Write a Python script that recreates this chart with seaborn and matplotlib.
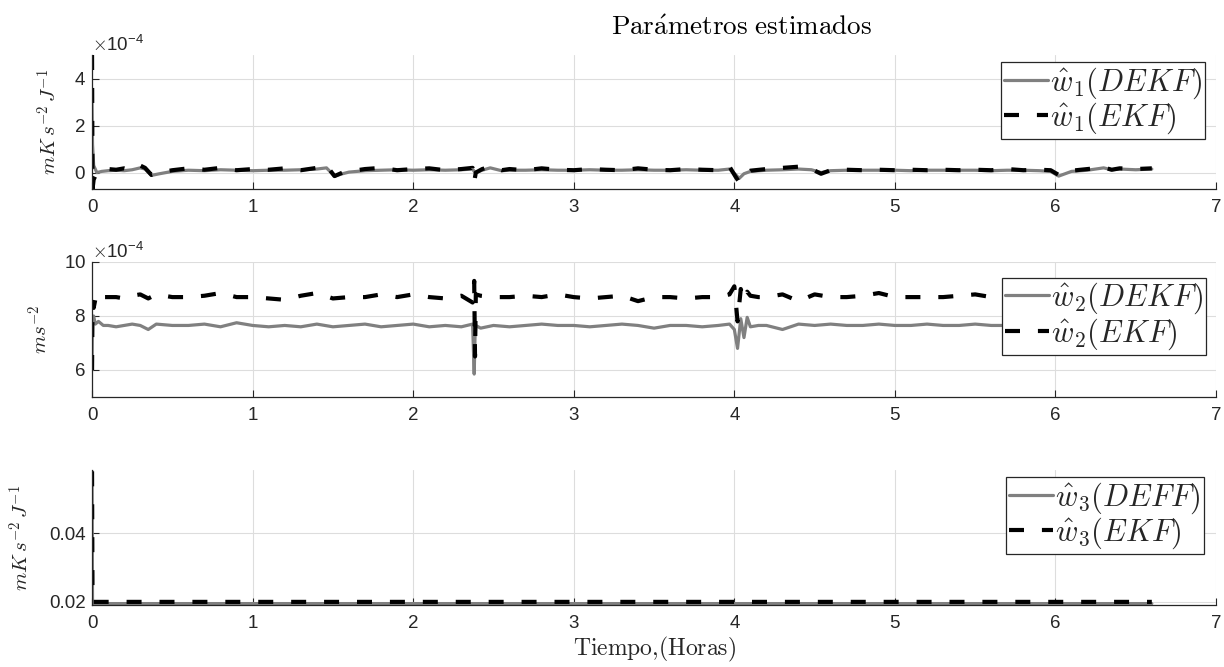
import numpy as np
import pandas as pd
import matplotlib
matplotlib.use("Agg")
import matplotlib.pyplot as plt
import seaborn as sns

# --- data (time in hours) ---
# w1 values in units of 1e-4
t1 = [0.0, 0.003, 0.01, 0.03, 0.06, 0.1, 0.15, 0.2, 0.25, 0.3,
      0.33, 0.37, 0.42, 0.5, 0.6, 0.7, 0.8, 0.9, 1.0, 1.1,
      1.2, 1.3, 1.4, 1.46, 1.51, 1.56, 1.6, 1.7, 1.8, 1.9,
      2.0, 2.1, 2.2, 2.3, 2.37, 2.38, 2.39, 2.43, 2.48, 2.55,
      2.6, 2.7, 2.8, 2.9, 3.0, 3.1, 3.2, 3.3, 3.4, 3.5,
      3.6, 3.7, 3.8, 3.9, 3.97, 4.01, 4.03, 4.06, 4.1, 4.2,
      4.3, 4.4, 4.48, 4.54, 4.6, 4.7, 4.8, 4.9, 5.0, 5.1,
      5.2, 5.3, 5.4, 5.5, 5.6, 5.7, 5.8, 5.9, 5.97, 6.02,
      6.06, 6.1, 6.2, 6.3, 6.35, 6.4, 6.5, 6.6]
w1_dekf = [3.0, 1.2, 0.3, 0.0, 0.05, 0.08, 0.1, 0.08, 0.12, 0.2,
           0.15, -0.12, -0.05, 0.05, 0.1, 0.08, 0.12, 0.1, 0.08, 0.1,
           0.1, 0.12, 0.15, 0.2, -0.15, -0.05, 0.02, 0.08, 0.1, 0.12,
           0.1, 0.12, 0.1, 0.12, 0.15, 0.05, 0.0, 0.1, 0.2, 0.08,
           0.1, 0.1, 0.12, 0.1, 0.1, 0.12, 0.1, 0.1, 0.12, 0.1,
           0.1, 0.12, 0.1, 0.1, 0.15, -0.1, -0.25, -0.05, 0.05, 0.1,
           0.12, 0.15, 0.12, 0.0, 0.08, 0.1, 0.1, 0.1, 0.1, 0.08,
           0.1, 0.1, 0.1, 0.1, 0.08, 0.1, 0.1, 0.08, 0.05, -0.15,
           -0.05, 0.05, 0.1, 0.2, 0.12, 0.15, 0.12, 0.15]
w1_ekf = [5.0, -0.7, -0.3, 0.0, 0.1, 0.15, 0.12, 0.18, 0.1, 0.3,
          0.2, -0.1, 0.0, 0.1, 0.18, 0.12, 0.2, 0.1, 0.15, 0.12,
          0.18, 0.1, 0.2, 0.3, -0.15, 0.0, 0.05, 0.15, 0.2, 0.1,
          0.15, 0.18, 0.1, 0.15, 0.2, -0.4, 0.0, 0.15, 0.25, 0.1,
          0.15, 0.1, 0.18, 0.12, 0.1, 0.15, 0.12, 0.1, 0.18, 0.12,
          0.1, 0.15, 0.12, 0.1, 0.25, -0.2, -0.4, -0.1, 0.08, 0.15,
          0.2, 0.25, 0.15, -0.05, 0.1, 0.12, 0.1, 0.12, 0.1, 0.12,
          0.1, 0.12, 0.1, 0.12, 0.1, 0.15, 0.1, 0.12, 0.1, -0.1,
          0.0, 0.08, 0.15, 0.22, 0.12, 0.18, 0.15, 0.18]

# w2 values in units of 1e-4
t2 = [0.0, 0.003, 0.01, 0.02, 0.04, 0.07, 0.1, 0.15, 0.2, 0.25,
      0.3, 0.35, 0.4, 0.5, 0.6, 0.7, 0.8, 0.9, 1.0, 1.1,
      1.2, 1.3, 1.4, 1.5, 1.6, 1.7, 1.8, 1.9, 2.0, 2.1,
      2.2, 2.3, 2.37, 2.38, 2.385, 2.39, 2.42, 2.5, 2.6, 2.7,
      2.8, 2.9, 3.0, 3.1, 3.2, 3.3, 3.4, 3.5, 3.6, 3.7,
      3.8, 3.9, 3.97, 4.0, 4.02, 4.04, 4.06, 4.08, 4.1, 4.15,
      4.2, 4.3, 4.4, 4.5, 4.6, 4.7, 4.8, 4.9, 5.0, 5.1,
      5.2, 5.3, 5.4, 5.5, 5.6, 5.7, 5.8, 5.9, 6.0, 6.1,
      6.2, 6.3, 6.4, 6.5, 6.6]
w2_dekf = [6.0, 7.9, 8.0, 7.7, 7.8, 7.65, 7.65, 7.6, 7.65, 7.7,
           7.65, 7.5, 7.7, 7.65, 7.65, 7.7, 7.6, 7.75, 7.65, 7.6,
           7.65, 7.6, 7.7, 7.6, 7.65, 7.7, 7.6, 7.65, 7.7, 7.6,
           7.65, 7.6, 7.7, 5.85, 7.2, 7.65, 7.55, 7.65, 7.6, 7.65,
           7.7, 7.65, 7.65, 7.6, 7.65, 7.7, 7.65, 7.55, 7.65, 7.65,
           7.6, 7.65, 7.7, 7.5, 6.8, 7.9, 7.2, 7.95, 7.6, 7.65,
           7.65, 7.5, 7.7, 7.65, 7.7, 7.65, 7.65, 7.7, 7.65, 7.65,
           7.7, 7.65, 7.65, 7.7, 7.65, 7.65, 7.7, 7.65, 7.65, 7.65,
           7.7, 7.65, 7.65, 7.7, 7.65]
w2_ekf = [6.0, 8.5, 8.3, 8.6, 8.4, 8.7, 8.7, 8.7, 8.65, 8.75,
          8.8, 8.65, 8.8, 8.7, 8.7, 8.75, 8.85, 8.7, 8.7, 8.65,
          8.6, 8.75, 8.85, 8.65, 8.7, 8.7, 8.8, 8.7, 8.8, 8.7,
          8.65, 8.75, 8.5, 9.3, 6.5, 8.8, 8.75, 8.7, 8.7, 8.75,
          8.7, 8.8, 8.7, 8.65, 8.7, 8.75, 8.55, 8.7, 8.7, 8.65,
          8.7, 8.7, 8.8, 9.1, 7.8, 9.0, 8.6, 8.9, 8.75, 8.7,
          8.7, 8.8, 8.55, 8.8, 8.7, 8.7, 8.75, 8.85, 8.7, 8.7,
          8.7, 8.7, 8.75, 8.8, 8.7, 8.7, 8.85, 8.7, 8.7, 8.7,
          8.65, 8.7, 8.7, 8.65, 8.7]

# w3 values
t3 = [0.0, 0.003, 0.01, 6.6]
w3_deff = [0.058, 0.0195, 0.0195, 0.0195]
w3_ekf = [0.058, 0.02, 0.02, 0.02]

labels_dekf = [r"$\hat{w}_1(DEKF)$", r"$\hat{w}_2(DEKF)$", r"$\hat{w}_3(DEFF)$"]
labels_ekf = [r"$\hat{w}_1(EKF)$", r"$\hat{w}_2(EKF)$", r"$\hat{w}_3(EKF)$"]
ylabels = [r"$mK\,s^{-2}\,J^{-1}$", r"$ms^{-2}$", r"$mK\,s^{-2}\,J^{-1}$"]

# --- style ---
sns.set_style("whitegrid")
plt.rcParams['font.family'] = ['Liberation Sans', 'DejaVu Sans']
plt.rcParams['mathtext.fontset'] = 'cm'
plt.rcParams['axes.unicode_minus'] = False

GRAY = "#808080"
DARK = "#262626"

fig = plt.figure(figsize=(12.24, 6.67), dpi=100)
rects = [
    [0.0752, 0.7166, 0.9183, 0.2009],
    [0.0752, 0.4048, 0.9183, 0.2024],
    [0.0752, 0.0930, 0.9183, 0.2024],
]
axes = [fig.add_axes(r) for r in rects]

series = [
    (t1, np.array(w1_dekf) * 1e-4, np.array(w1_ekf) * 1e-4),
    (t2, np.array(w2_dekf) * 1e-4, np.array(w2_ekf) * 1e-4),
    (t3, np.array(w3_deff), np.array(w3_ekf)),
]
ylims = [(-0.7e-4, 5e-4), (5e-4, 10e-4), (0.0191, 0.0584)]
yticks = [[0, 2e-4, 4e-4], [6e-4, 8e-4, 10e-4], [0.02, 0.04]]
legend_anchor = [(0.990, 0.945), (0.991, 0.885), (0.989, 0.945)]
ylabel_x = [-0.028, -0.036, -0.053]

for i, ax in enumerate(axes):
    t, d, e = series[i]
    df = pd.DataFrame({"t": t, "dekf": d, "ekf": e})
    sns.lineplot(data=df, x="t", y="dekf", ax=ax, color=GRAY, lw=2.3,
                 estimator=None, sort=False, label=labels_dekf[i])
    sns.lineplot(data=df, x="t", y="ekf", ax=ax, color="black", lw=3.0,
                 estimator=None, sort=False, linestyle=(0, (3.6, 4.3)),
                 label=labels_ekf[i])

    ax.set_xlim(0, 7)
    ax.set_ylim(*ylims[i])
    ax.set_xticks(range(0, 8))
    ax.set_yticks(yticks[i])
    if i < 2:
        ax.ticklabel_format(axis='y', style='sci', scilimits=(-4, -4), useMathText=True)
        ax.yaxis.get_offset_text().set_fontsize(13.5)
        ax.yaxis.get_offset_text().set_color(DARK)

    ax.set_xlabel("")
    ax.set_ylabel(ylabels[i], fontsize=15, color=DARK)
    ax.yaxis.set_label_coords(ylabel_x[i], 0.5)

    ax.grid(True, color="#dddddd", lw=0.8)
    for s in ["top", "right"]:
        ax.spines[s].set_visible(False)
    for s in ["left", "bottom"]:
        ax.spines[s].set_color(DARK)
        ax.spines[s].set_linewidth(0.9)
    ax.tick_params(direction="in", length=5, width=0.8, color=DARK,
                   labelcolor=DARK, labelsize=13.5, left=True, bottom=True)
    ax.tick_params(axis="x", pad=7)
    ax.tick_params(axis="y", pad=4.5)

    leg = ax.legend(loc="upper right", bbox_to_anchor=legend_anchor[i],
                    borderaxespad=0, fontsize=22, frameon=True, fancybox=False,
                    framealpha=1, edgecolor=DARK, handlelength=1.45,
                    handletextpad=0.05, borderpad=0.1, labelspacing=0.0)
    leg.get_frame().set_linewidth(0.9)

axes[2].set_xlabel(r"$\mathrm{Tiempo{,}(Horas)}$", fontsize=17, color=DARK, labelpad=2)
fig.text(0.606, 0.958, r"$\mathrm{Par\acute{a}metros\ estimados}$",
         fontsize=19.5, ha="center", va="center", color="black")

fig.savefig("out.png", dpi=100)
